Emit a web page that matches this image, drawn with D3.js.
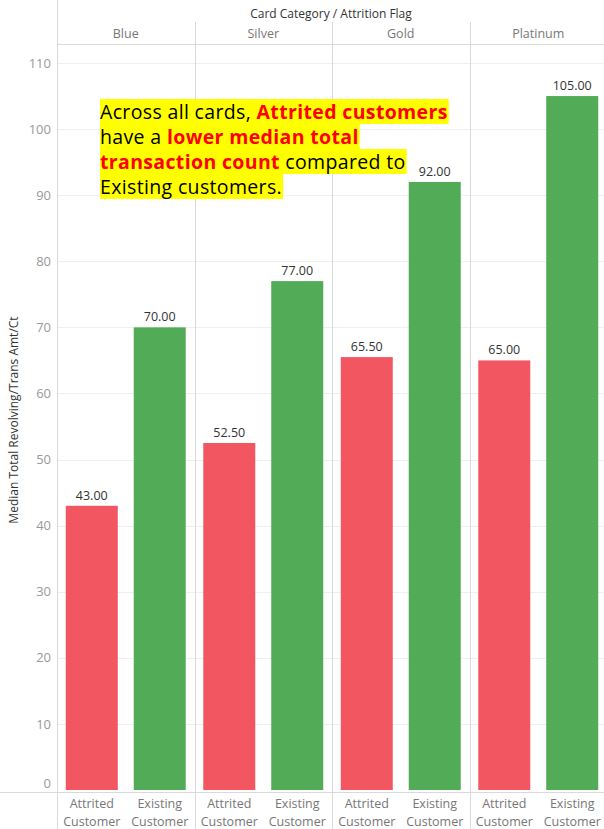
<!DOCTYPE html>
<html>
<head>
<meta charset="utf-8">
<script src="https://cdn.jsdelivr.net/npm/d3@7"></script>
<style>
  html, body { margin: 0; padding: 0; background: #fff; }
  svg { display: block; }
</style>
</head>
<body>
<svg id="chart" width="604" height="829"></svg>
<script>
// Card categories and attrition flags
const cardCategories = ["Blue", "Silver", "Gold", "Platinum"];
const attritionFlags = ["Attrited Customer", "Existing Customer"];
// Median total transaction count per card, one array per flag
const attritedValues = [43.0, 52.5, 65.5, 65.0];
const existingValues = [70.0, 77.0, 92.0, 105.0];
const yTicks = [0, 10, 20, 30, 40, 50, 60, 70, 80, 90, 100, 110];

const rows = [];
cardCategories.forEach((c, i) => {
  rows.push({ card: c, flag: attritionFlags[0], value: attritedValues[i] });
  rows.push({ card: c, flag: attritionFlags[1], value: existingValues[i] });
});

const W = 604, H = 829;
const plotLeft = 57, plotRight = 607, plotTop = 44, plotBottom = 792;
const svg = d3.select("#chart");
const fontSmall = "'Open Sans', 'Noto Sans', sans-serif";
const colors = { "Attrited Customer": "#f15661", "Existing Customer": "#52ab57" };

const y = d3.scaleLinear().domain([0, 110]).range([790, 63]);
const xCard = d3.scaleBand().domain(cardCategories).range([plotLeft, plotRight]).padding(0);
const xFlag = d3.scaleBand().domain(attritionFlags).range([0, xCard.bandwidth()])
  .paddingInner(0.235).paddingOuter(0.129);

// gridlines
svg.append("g").selectAll("line").data(yTicks.filter(t => t > 0)).join("line")
  .attr("x1", plotLeft).attr("x2", W)
  .attr("y1", d => Math.round(y(d)) + 0.5).attr("y2", d => Math.round(y(d)) + 0.5)
  .attr("stroke", "#efefef").attr("stroke-width", 1);

// y axis
const yAxis = svg.append("g").attr("transform", `translate(${plotLeft},0)`)
  .call(d3.axisLeft(y).tickValues(yTicks).tickSize(0).tickPadding(6));
yAxis.select(".domain").remove();
yAxis.selectAll("text").attr("fill", "#999").style("font-family", fontSmall).style("font-size", "13px");
// the zero label sits just above the baseline
yAxis.selectAll(".tick").filter(d => d === 0).select("text").attr("dy", "-0.2em");

svg.append("text")
  .attr("transform", "translate(18,420) rotate(-90)")
  .attr("text-anchor", "middle")
  .attr("fill", "#333").style("font-family", fontSmall).style("font-size", "12px")
  .text("Median Total Revolving/Trans Amt/Ct");

// structural lines
svg.append("line").attr("x1", plotLeft + 0.5).attr("x2", plotLeft + 0.5).attr("y1", 0).attr("y2", H)
  .attr("stroke", "#d9d9d9");
svg.append("line").attr("x1", plotLeft).attr("x2", W).attr("y1", plotTop + 0.5).attr("y2", plotTop + 0.5)
  .attr("stroke", "#d9d9d9");
svg.append("line").attr("x1", 0).attr("x2", W).attr("y1", plotBottom + 0.5).attr("y2", plotBottom + 0.5)
  .attr("stroke", "#d9d9d9");
svg.append("g").selectAll("line").data(cardCategories.slice(1)).join("line")
  .attr("x1", d => Math.round(xCard(d)) + 0.5).attr("x2", d => Math.round(xCard(d)) + 0.5)
  .attr("y1", 22).attr("y2", H)
  .attr("stroke", "#d9d9d9");

// header
svg.append("text").attr("x", 331).attr("y", 18).attr("text-anchor", "middle")
  .attr("fill", "#333").style("font-family", fontSmall).style("font-size", "12px")
  .text("Card Category / Attrition Flag");
svg.append("g").selectAll("text").data(cardCategories).join("text")
  .attr("x", d => xCard(d) + xCard.bandwidth() / 2).attr("y", 38)
  .attr("text-anchor", "middle")
  .attr("fill", "#777").style("font-family", fontSmall).style("font-size", "12.5px")
  .text(d => d);

// bars
const barG = svg.append("g");
barG.selectAll("rect").data(rows).join("rect")
  .attr("x", d => xCard(d.card) + xFlag(d.flag))
  .attr("width", xFlag.bandwidth())
  .attr("y", d => y(d.value))
  .attr("height", d => y(0) - y(d.value))
  .attr("fill", d => colors[d.flag]);

barG.selectAll("text").data(rows).join("text")
  .attr("x", d => xCard(d.card) + xFlag(d.flag) + xFlag.bandwidth() / 2)
  .attr("y", d => y(d.value) - 6)
  .attr("text-anchor", "middle")
  .attr("fill", "#333").style("font-family", fontSmall).style("font-size", "12.5px")
  .text(d => d3.format(".2f")(d.value));

// bottom flag labels
const lab = svg.append("g").selectAll("text").data(rows).join("text")
  .attr("x", d => xCard(d.card) + xFlag(d.flag) + xFlag.bandwidth() / 2)
  .attr("text-anchor", "middle")
  .attr("fill", "#777").style("font-family", fontSmall).style("font-size", "12.5px");
lab.append("tspan").attr("x", d => xCard(d.card) + xFlag(d.flag) + xFlag.bandwidth() / 2)
  .attr("y", 808).text(d => d.flag.split(" ")[0]);
lab.append("tspan").attr("x", d => xCard(d.card) + xFlag(d.flag) + xFlag.bandwidth() / 2)
  .attr("y", 826).text(d => d.flag.split(" ")[1]);

// annotation
const noteLines = [
  [["Across all cards, ", false], ["Attrited customers", true]],
  [["have a ", false], ["lower median total", true]],
  [["transaction count", true], [" compared to", false]],
  [["Existing customers.", false]]
];
const note = svg.append("g");
const noteX = 100, noteBase = 119, lineH = 25;
noteLines.forEach((parts, i) => {
  const bg = note.append("rect");
  const t = note.append("text").attr("x", noteX).attr("y", noteBase + i * lineH)
    .style("font-family", "'Open Sans', 'Noto Sans', sans-serif").style("font-size", "19.5px")
    .style("letter-spacing", "0.35px");
  parts.forEach(([s, hi]) => {
    t.append("tspan").text(s)
      .attr("fill", hi ? "#ff0000" : "#000")
      .attr("font-weight", hi ? "bold" : "normal");
  });
  const w = t.node().getComputedTextLength();
  bg.attr("x", noteX).attr("y", noteBase + i * lineH - 20).attr("width", w + 1).attr("height", lineH)
    .attr("fill", "#ffff00");
});
</script>
</body>
</html>
